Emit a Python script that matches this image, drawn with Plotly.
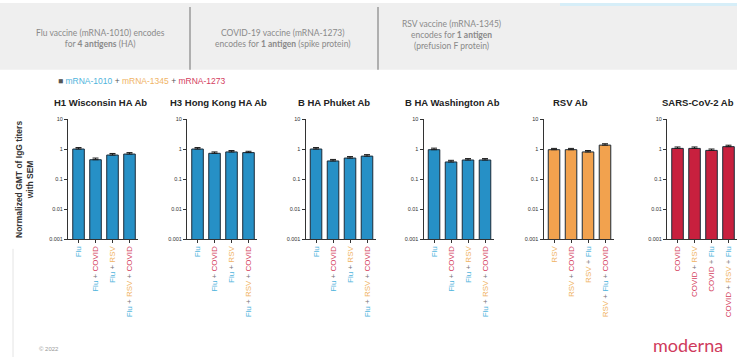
import plotly.graph_objects as go

W, H = 737, 360

# ---------------- data ----------------
panel_titles = ["H1 Wisconsin HA Ab", "H3 Hong Kong HA Ab", "B HA Phuket Ab",
                "B HA Washington Ab", "RSV Ab", "SARS-CoV-2 Ab"]

flu_cats = ["Flu", "Flu + COVID", "Flu + RSV", "Flu + RSV + COVID"]
rsv_cats = ["RSV", "RSV + COVID", "RSV + Flu", "RSV + Flu + COVID"]
cov_cats = ["COVID", "COVID + RSV", "COVID + Flu", "COVID + RSV + Flu"]

h1_vals = [1.0, 0.44, 0.63, 0.68]
h3_vals = [1.0, 0.72, 0.80, 0.76]
bphuket_vals = [1.0, 0.40, 0.50, 0.58]
bwash_vals = [0.95, 0.37, 0.43, 0.43]
rsv_vals = [0.95, 0.95, 0.80, 1.35]
sars_vals = [1.05, 1.05, 0.90, 1.20]

h1_sem = [0.12, 0.06, 0.08, 0.08]
h3_sem = [0.12, 0.08, 0.09, 0.08]
bphuket_sem = [0.12, 0.05, 0.06, 0.07]
bwash_sem = [0.12, 0.05, 0.05, 0.05]
rsv_sem = [0.10, 0.10, 0.09, 0.15]
sars_sem = [0.12, 0.12, 0.10, 0.14]

y_tickvals = [0.001, 0.01, 0.1, 1, 10]
y_ticktext = ["0.001", "0.01", "0.1", "1", "10"]

legend_items = ["mRNA-1010", "mRNA-1345", "mRNA-1273"]

# ---------------- styles ----------------
BLUE, ORANGE, RED = "#2690c6", "#f2a24e", "#c8203e"
LBL = {"Flu": "#4fb4dc", "RSV": "#f0b466", "COVID": "#d4405e"}
FONT = "Liberation Sans, Arial, sans-serif"

panels = [
    (h1_vals, h1_sem, flu_cats, BLUE),
    (h3_vals, h3_sem, flu_cats, BLUE),
    (bphuket_vals, bphuket_sem, flu_cats, BLUE),
    (bwash_vals, bwash_sem, flu_cats, BLUE),
    (rsv_vals, rsv_sem, rsv_cats, ORANGE),
    (sars_vals, sars_sem, cov_cats, RED),
]
# axis-line x positions in pixels for each panel
axis_px = [68, 187, 305.5, 423.5, 543.5, 667]
panel_w = 70
title_cx = [100, 219, 334, 452, 570, 736]


def colored(label):
    parts = label.split(" + ")
    return "<span style='color:#777'> + </span>".join(
        f"<span style='color:{LBL[p]}'>{p}</span>" for p in parts)


fig = go.Figure()
layout = dict(
    width=W, height=H, margin=dict(l=0, r=0, t=0, b=0), autosize=False,
    paper_bgcolor="white", plot_bgcolor="white", showlegend=False,
    font=dict(family=FONT, color="#333"),
)

ydom = [(H - 240) / H, (H - 118) / H]
for i, (vals, sem, cats, col) in enumerate(panels):
    n = "" if i == 0 else str(i + 1)
    fig.add_trace(go.Bar(
        x=cats, y=vals, width=0.68,
        marker=dict(color=col, line=dict(color="#1c2b38", width=1)),
        error_y=dict(type="data", array=sem, arrayminus=[0] * len(sem),
                     symmetric=False, color="#1c1c1c", thickness=1, width=3),
        xaxis="x" + n, yaxis="y" + n,
    ))
    layout["xaxis" + n] = dict(
        domain=[axis_px[i] / W, (axis_px[i] + panel_w) / W],
        anchor="y" + n, type="category", range=[-0.62, 3.5],
        tickvals=cats, ticktext=[colored(c) for c in cats],
        tickangle=-90, tickfont=dict(size=8, family=FONT),
        showline=True, linecolor="#333", linewidth=1,
        ticks="outside", ticklen=3, tickcolor="#333", showgrid=False,
        zeroline=False, fixedrange=True,
    )
    layout["yaxis" + n] = dict(
        domain=ydom, anchor="x" + n, type="log", range=[-3, 1],
        tickvals=y_tickvals, ticktext=y_ticktext,
        tickfont=dict(size=5.5, family=FONT, color="#333"),
        showline=True, linecolor="#333", linewidth=1,
        ticks="outside", ticklen=3, tickcolor="#333", showgrid=False,
        zeroline=False, fixedrange=True,
    )

shapes = [
    dict(type="rect", xref="paper", yref="paper", x0=0, x1=1,
         y0=(H - 68) / H, y1=1, fillcolor="#efefef", line=dict(width=0), layer="below"),
    dict(type="rect", xref="paper", yref="paper", x0=560 / W, x1=1,
         y0=(H - 3) / H, y1=1, fillcolor="#d6eef8", line=dict(width=0), layer="below"),
    dict(type="line", xref="paper", yref="paper", x0=190 / W, x1=190 / W,
         y0=(H - 68) / H, y1=(H - 4) / H, line=dict(color="#9a9a9a", width=1.5)),
    dict(type="line", xref="paper", yref="paper", x0=378 / W, x1=378 / W,
         y0=(H - 68) / H, y1=(H - 4) / H, line=dict(color="#9a9a9a", width=1.5)),
    dict(type="line", xref="paper", yref="paper", x0=13 / W, x1=13 / W,
         y0=0, y1=(H - 250) / H, line=dict(color="#e4e4e4", width=1)),
]

BF = "Lato, Liberation Sans, sans-serif"
annotations = [
    dict(x=101 / W, y=(H - 36) / H, text="Flu vaccine (mRNA-1010) encodes<br>for <b>4 antigens</b> (HA)",
         font=dict(size=8.5, color="#8a8a8a", family=BF)),
    dict(x=283 / W, y=(H - 36) / H, text="COVID-19 vaccine (mRNA-1273)<br>encodes for <b>1 antigen</b> (spike protein)",
         font=dict(size=8.5, color="#8a8a8a", family=BF)),
    dict(x=451 / W, y=(H - 33) / H, text="RSV vaccine (mRNA-1345)<br>encodes for <b>1 antigen</b><br>(prefusion F protein)",
         font=dict(size=8.5, color="#8a8a8a", family=BF)),
    dict(x=56 / W, y=(H - 79) / H, xanchor="left",
         text=("<span style='color:#555'>■</span> "
               f"<span style='color:{LBL['Flu']}'>{legend_items[0]}</span>"
               "<span style='color:#555'> + </span>"
               f"<span style='color:{LBL['RSV']}'>{legend_items[1]}</span>"
               "<span style='color:#555'> + </span>"
               f"<span style='color:{LBL['COVID']}'>{legend_items[2]}</span>"),
         font=dict(size=8.5, family=FONT)),
    dict(x=24 / W, y=(H - 180) / H, textangle=-90,
         text="<b>Normalized GMT of IgG titers<br>with SEM</b>",
         font=dict(size=8.5, color="#333", family=FONT)),
    dict(x=651 / W, y=(H - 361) / H, xanchor="left", yanchor="bottom",
         text="moderna", font=dict(size=18, color="#cf3a5c", family="Lato, sans-serif")),
    dict(x=37 / W, y=(H - 352) / H, xanchor="left",
         text="© 2022", font=dict(size=6, color="#999", family=FONT)),
]
for i, t in enumerate(panel_titles):
    annotations.append(dict(x=title_cx[i] / W, y=(H - 101) / H, text=f"<b>{t}</b>",
                            xanchor="right" if i == len(panel_titles) - 1 else "center",
                            font=dict(size=9.5, color="#222", family=FONT)))
for a in annotations:
    a.setdefault("xref", "paper")
    a.setdefault("yref", "paper")
    a.setdefault("xanchor", "center")
    a.setdefault("yanchor", "middle")
    a.setdefault("showarrow", False)

layout["shapes"] = shapes
layout["annotations"] = annotations
fig.update_layout(**layout)
fig.write_html("out.html", config={"displayModeBar": False},
               post_script="document.body.style.margin='0px';document.body.style.overflow='hidden';")
